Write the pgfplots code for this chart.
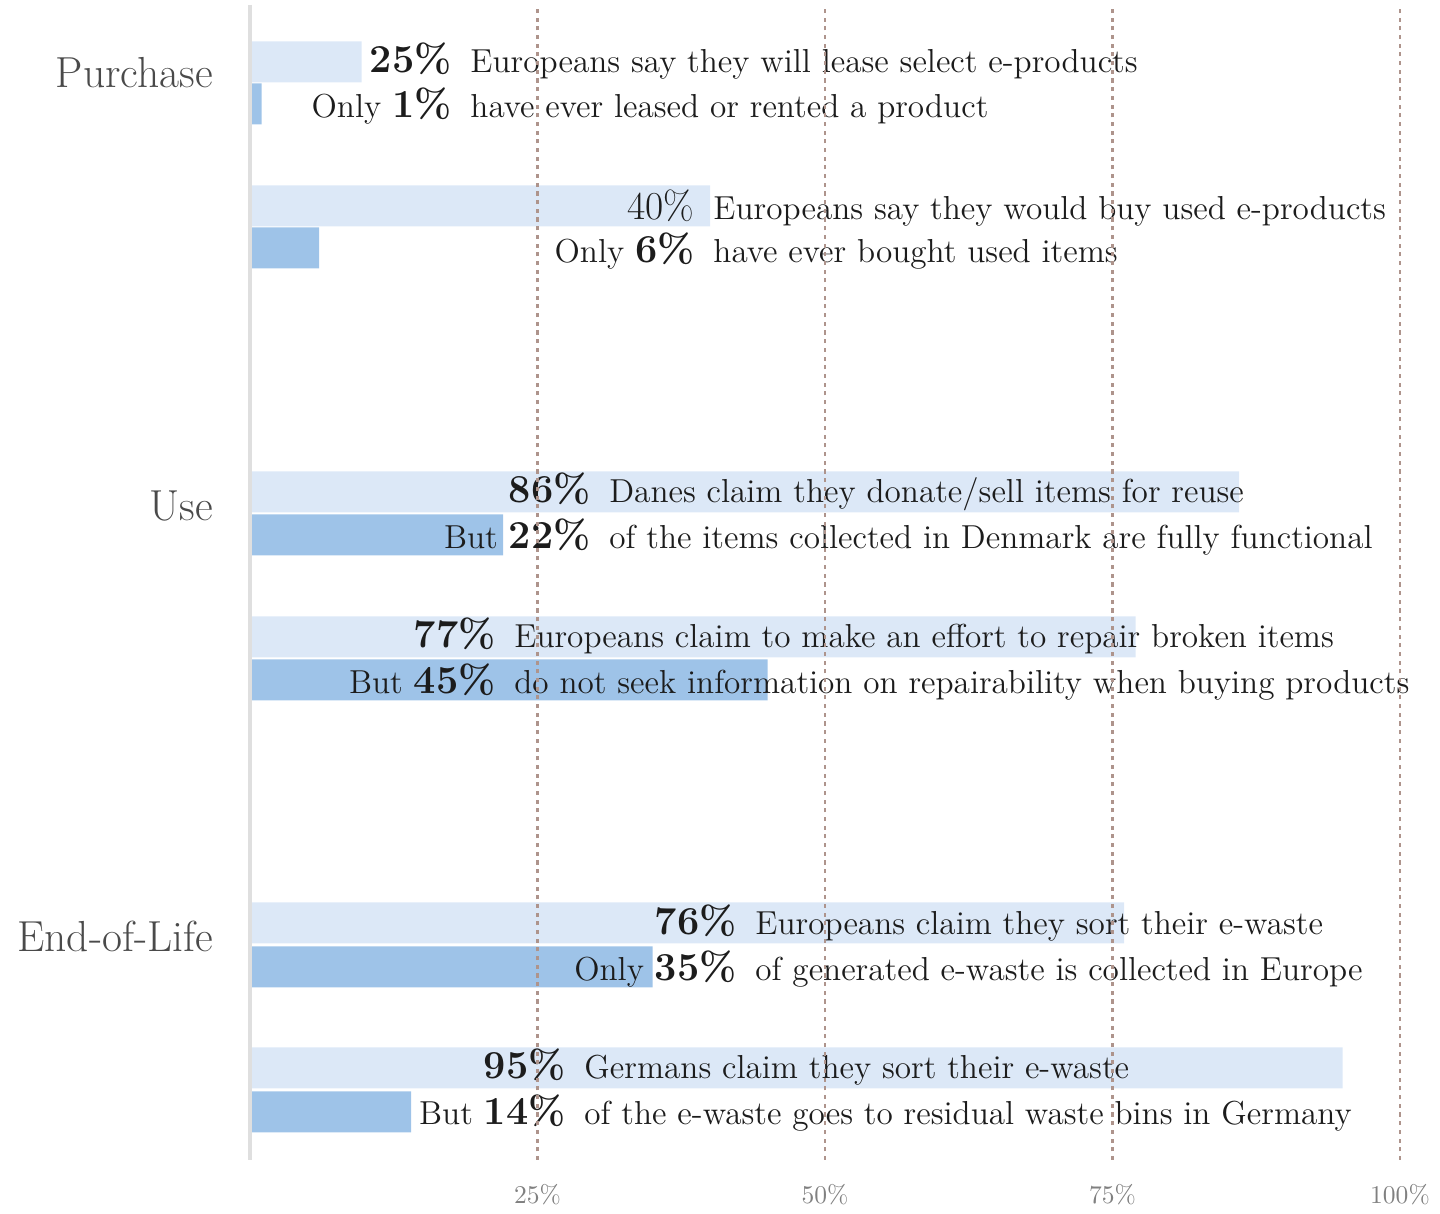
\documentclass[border=0pt]{standalone}
\usepackage{pgfplots}
\pgfplotsset{compat=1.18}

\definecolor{barlight}{HTML}{DCE8F7}
\definecolor{bardark}{HTML}{9EC3E8}
\definecolor{gridc}{HTML}{AE948C}
\definecolor{txt}{HTML}{1C1C1C}
\definecolor{catc}{HTML}{4A4A4A}

% number right edge is shared by both lines of a pair
\newcommand{\numlbl}[3]{\node[anchor=base east, inner sep=0, text=txt, font=\fontsize{13}{15.6}\selectfont] at (axis cs:#1,#2) {#3};}
\newcommand{\restlbl}[3]{\node[anchor=base west, inner sep=0, text=txt, font=\fontsize{13}{15.6}\selectfont, xshift=7pt] at (axis cs:#1,#2) {#3};}
\newcommand{\num}[1]{{\fontsize{15.5}{18}\selectfont\bfseries #1}}

\begin{document}
\begin{tikzpicture}
\begin{axis}[
    x=4.5pt, y=0.3913pt,
    xmin=0, xmax=100,
    ymin=-1160, ymax=-5,
    axis line style={draw=none},
    axis on top,
    clip=false,
    ytick=\empty,
    xtick={25,50,75,100},
    xticklabels={25\%,50\%,75\%,100\%},
    major tick length=0pt,
    xmajorgrids,
    grid style={gridc, line width=0.8pt, dash pattern=on 1.6pt off 1.8pt},
    xticklabel style={text=gray, font=\normalsize, yshift=-6pt},
    xbar, bar shift=0pt, bar width=41,
]
% stated share (light) and actual share (dark), y = position on the page
\addplot[draw=none, fill=barlight] coordinates {
    (9.7,-62) (40,-206) (86,-492) (77,-637) (76,-923) (95,-1068)
};
\addplot[draw=none, fill=bardark] coordinates {
    (1,-104) (6,-248) (22,-535) (45,-680) (35,-967) (14,-1112)
};

\draw[line width=1.2pt, color=gray!25] (axis cs:0,-5) -- (axis cs:0,-1160);

% category names
\node[anchor=base east, inner sep=0, text=catc, font=\fontsize{17}{20}\selectfont] at (axis cs:-3.2,-88) {Purchase};
\node[anchor=base east, inner sep=0, text=catc, font=\fontsize{17}{20}\selectfont] at (axis cs:-3.2,-521) {Use};
\node[anchor=base east, inner sep=0, text=catc, font=\fontsize{17}{20}\selectfont] at (axis cs:-3.2,-952) {End-of-Life};

% Purchase
\numlbl{17.57}{-73}{\num{25\%}}
\restlbl{17.57}{-73}{Europeans say they will lease select e-products}
\numlbl{17.57}{-118}{Only \num{1\%}}
\restlbl{17.57}{-118}{have ever leased or rented a product}
\numlbl{38.7}{-220}{{\fontsize{15.5}{18}\selectfont 40\%}}
\restlbl{38.7}{-220}{Europeans say they would buy used e-products}
\numlbl{38.7}{-263}{Only \num{6\%}}
\restlbl{38.7}{-263}{have ever bought used items}

% Use
\numlbl{29.65}{-503}{\num{86\%}}
\restlbl{29.65}{-503}{Danes claim they donate/sell items for reuse}
\numlbl{29.65}{-549}{But \num{22\%}}
\restlbl{29.65}{-549}{of the items collected in Denmark are fully functional}
\numlbl{21.39}{-648}{\num{77\%}}
\restlbl{21.39}{-648}{Europeans claim to make an effort to repair broken items}
\numlbl{21.39}{-694}{But \num{45\%}}
\restlbl{21.39}{-694}{do not seek information on repairability when buying products}

% End-of-Life
\numlbl{42.35}{-935}{\num{76\%}}
\restlbl{42.35}{-935}{Europeans claim they sort their e-waste}
\numlbl{42.35}{-981}{Only \num{35\%}}
\restlbl{42.35}{-981}{of generated e-waste is collected in Europe}
\numlbl{27.48}{-1079}{\num{95\%}}
\restlbl{27.48}{-1079}{Germans claim they sort their e-waste}
\numlbl{27.48}{-1125}{But \num{14\%}}
\restlbl{27.48}{-1125}{of the e-waste goes to residual waste bins in Germany}

% page frame
\path (axis cs:-21.74,0) rectangle (axis cs:103.48,-1210);
\end{axis}
\end{tikzpicture}
\end{document}
